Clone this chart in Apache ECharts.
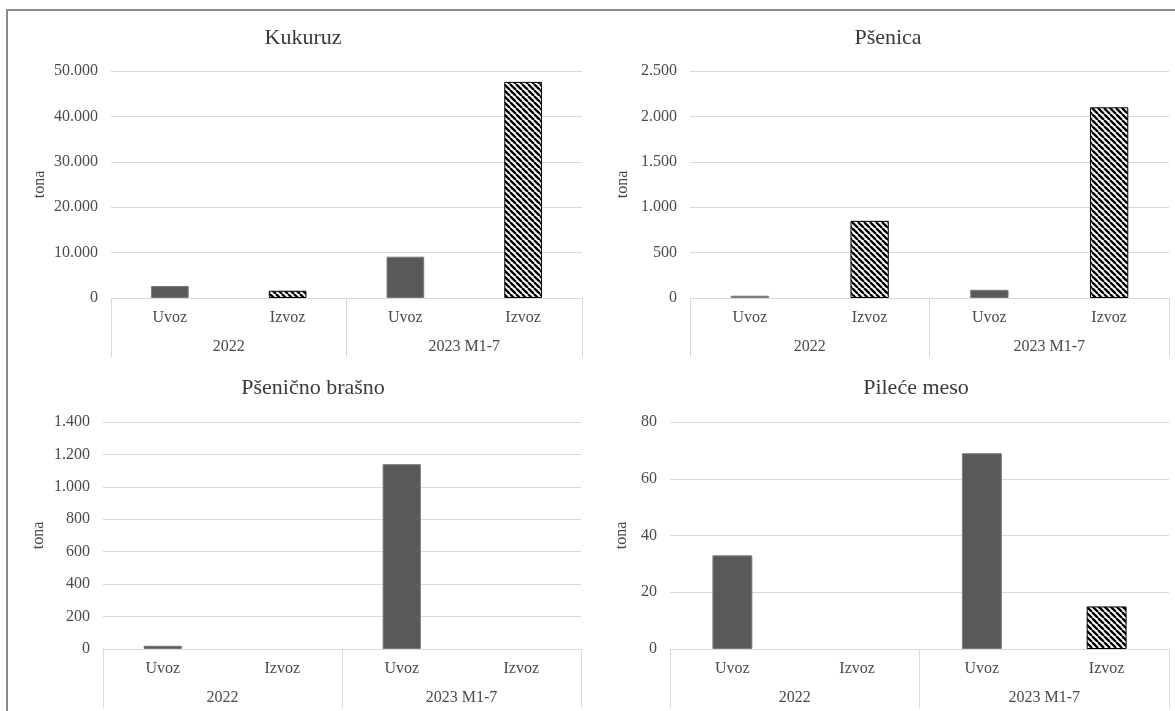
<!DOCTYPE html>
<html>
<head>
<meta charset="utf-8">
<script src="https://cdn.jsdelivr.net/npm/echarts@6/dist/echarts.min.js"></script>
<style>
  html, body { margin: 0; padding: 0; background: #fff; }
  #chart { width: 1175px; height: 711px; }
</style>
</head>
<body>
<div id="chart"></div>
<script>
// Trade flows per product (tonnes)
const flowLabels = ['Uvoz', 'Izvoz', 'Uvoz', 'Izvoz'];
const periodLabels = ['2022', '2023 M1-7'];
const kukuruz = [2650, 1600, 9100, 47600];
const psenica = [25, 850, 90, 2100];
const psenicnoBrasno = [20, 0, 1140, 0];
const pileceMeso = [33, 0, 69, 15];
const panelTitles = ['Kukuruz', 'Pšenica', 'Pšenično brašno', 'Pileće meso'];
const yMax = [50000, 2500, 1400, 80];
const yStep = [10000, 500, 200, 20];
const unitName = 'tona';

const seriesValues = [kukuruz, psenica, psenicnoBrasno, pileceMeso];

// Panel placement on the page
const panels = [
  { left: 111, right: 593, top: 71, bottom: 413, nameGap: 63, titleX: 303, titleY: 38 },
  { left: 690, right: 6, top: 71, bottom: 413, nameGap: 59, titleX: 888, titleY: 38 },
  { left: 103, right: 594, top: 422, bottom: 62, nameGap: 56, titleX: 313, titleY: 388 },
  { left: 670, right: 6, top: 422, bottom: 62, nameGap: 40, titleX: 916, titleY: 388 }
];

const FONT = '"Liberation Serif", "Times New Roman", serif';
const TEXT = '#4a4a4a';
const GRID = '#d9d9d9';

// Diagonal black/white hatch used for export bars
function makeHatch() {
  const s = 6;
  const c = document.createElement('canvas');
  c.width = s; c.height = s;
  const g = c.getContext('2d');
  g.fillStyle = '#ffffff';
  g.fillRect(0, 0, s, s);
  g.strokeStyle = '#000000';
  g.lineWidth = 2.3;
  g.beginPath();
  for (let k = -1; k <= 1; k++) {
    g.moveTo(k * s, 0);
    g.lineTo(k * s + s, s);
  }
  g.stroke();
  return c;
}
const hatch = makeHatch();

const importStyle = { color: '#595959', borderColor: '#7a7a7a', borderWidth: 1 };
const exportStyle = { color: { image: hatch, repeat: 'repeat' }, borderColor: '#000000', borderWidth: 1 };

function fmt(v) {
  return String(v).replace(/\B(?=(\d{3})+(?!\d))/g, '.');
}

const grid = [], xAxis = [], yAxis = [], series = [], graphic = [];

panels.forEach((p, i) => {
  grid.push({ left: p.left, right: p.right, top: p.top, bottom: p.bottom, containLabel: false });

  xAxis.push({
    gridIndex: i, type: 'category', data: flowLabels, position: 'bottom',
    axisLine: { show: true, lineStyle: { color: GRID, width: 1 } },
    axisTick: { show: false },
    axisLabel: { margin: 12, fontSize: 16, fontFamily: FONT, color: TEXT }
  });
  xAxis.push({
    gridIndex: i, type: 'category', data: periodLabels, position: 'bottom',
    axisLine: { show: false },
    axisTick: { show: true, length: 59, lineStyle: { color: GRID, width: 1 } },
    axisLabel: { margin: 41, fontSize: 16, fontFamily: FONT, color: TEXT }
  });

  yAxis.push({
    gridIndex: i, type: 'value', min: 0, max: yMax[i], interval: yStep[i],
    name: unitName, nameLocation: 'middle', nameGap: p.nameGap, nameRotate: 90,
    nameTextStyle: { fontSize: 16, fontFamily: FONT, color: TEXT },
    axisLine: { show: false }, axisTick: { show: false },
    axisLabel: { margin: 13, fontSize: 16, fontFamily: FONT, color: TEXT, formatter: fmt },
    splitLine: { show: true, lineStyle: { color: GRID, width: 1 } }
  });

  series.push({
    type: 'bar',
    xAxisIndex: i * 2, yAxisIndex: i,
    barWidth: '32%',
    animation: false,
    data: seriesValues[i].map((v, k) => {
      const base = k % 2 === 0 ? importStyle : exportStyle;
      return { value: v, itemStyle: Object.assign({}, base, v === 0 ? { borderWidth: 0 } : {}) };
    })
  });

  graphic.push({
    type: 'text', x: p.titleX, y: p.titleY,
    style: {
      text: panelTitles[i], font: '22px ' + FONT, fill: '#3a3a3a',
      align: 'center', verticalAlign: 'middle',
      textAlign: 'center', textVerticalAlign: 'middle'
    }
  });
});

// Outer frame
graphic.push({
  type: 'rect', shape: { x: 7, y: 10, width: 1400, height: 900 },
  style: { fill: 'none', stroke: '#8a8a8a', lineWidth: 2 }, silent: true
});

const chart = echarts.init(document.getElementById('chart'), null, { renderer: 'canvas' });
chart.setOption({
  backgroundColor: '#ffffff',
  animation: false,
  grid, xAxis, yAxis, series, graphic
});
</script>
</body>
</html>
